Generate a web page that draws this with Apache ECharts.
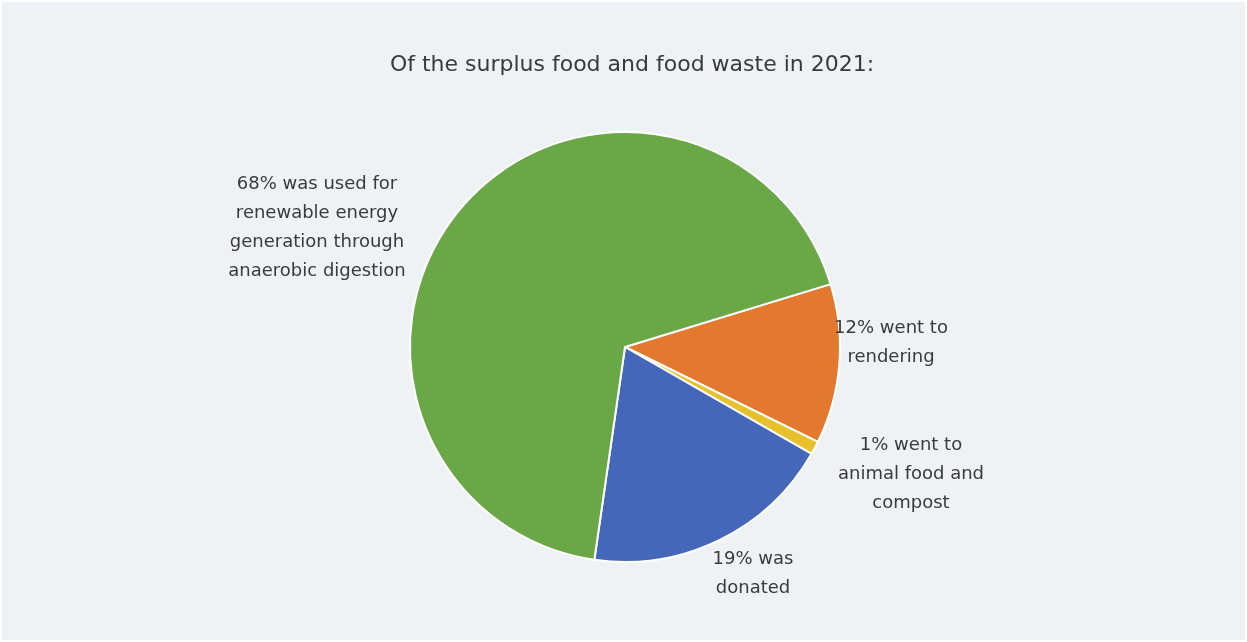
<!DOCTYPE html>
<html>
<head>
<meta charset="utf-8">
<script src="https://cdn.jsdelivr.net/npm/echarts@6/dist/echarts.min.js"></script>
<style>
  html, body { margin: 0; padding: 0; background: #ffffff; }
  #chart { position: absolute; left: 2px; top: 2px; width: 1243px; height: 638px; }
</style>
</head>
<body>
<div id="chart"></div>
<script>
// slice order follows the picture clockwise, starting with the orange wedge
const categories = ["rendering", "animal food and compost", "donated", "anaerobic digestion"];
const shares = [12, 1, 19, 68];
const labelTexts = [
  "12% went to\nrendering",
  "1% went to\nanimal food and\ncompost",
  "19% was\ndonated",
  "68% was used for\nrenewable energy\ngeneration through\nanaerobic digestion"
];
const sliceColors = ["#e3782f", "#e6c12a", "#4567ba", "#6aa747"];

// where each label block is centred (pixels in the chart box)
const labelSpots = [[889, 341], [909, 472], [751, 572], [315, 226]];

const chart = echarts.init(document.getElementById("chart"));

chart.setOption({
  backgroundColor: "#eef2f5",
  animation: false,
  title: {
    text: "Of the surplus food and food waste in 2021:",
    left: 627 - 2,
    top: 47,
    textAlign: "center",
    textStyle: {
      fontFamily: "DejaVu Sans",
      fontSize: 22,
      fontWeight: "normal",
      color: "#3a3a3a"
    }
  },
  series: [
    {
      type: "pie",
      center: [623, 345],
      radius: 215,
      startAngle: 17,
      clockwise: true,
      itemStyle: {
        borderColor: "#ffffff",
        borderWidth: 2
      },
      label: {
        show: true,
        position: "outside",
        fontFamily: "DejaVu Sans",
        fontSize: 18,
        lineHeight: 29,
        color: "#3a3a3a",
        align: "center",
        formatter: (p) => labelTexts[p.dataIndex]
      },
      labelLine: { show: false },
      labelLayout: (p) => ({
        x: labelSpots[p.dataIndex][0],
        y: labelSpots[p.dataIndex][1],
        align: "center",
        verticalAlign: "middle"
      }),
      emphasis: { disabled: true },
      data: categories.map((name, i) => ({
        name: name,
        value: shares[i],
        itemStyle: { color: sliceColors[i] }
      }))
    }
  ]
});
</script>
</body>
</html>
